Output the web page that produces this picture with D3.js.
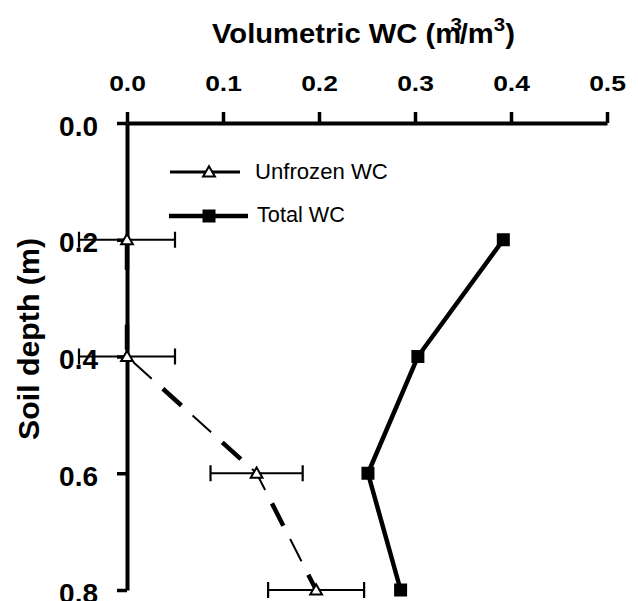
<!DOCTYPE html>
<html>
<head>
<meta charset="utf-8">
<script src="https://cdn.jsdelivr.net/npm/d3@7"></script>
<style>
  body { margin: 0; background: #fff; }
  svg { display: block; font-family: "Liberation Sans", Arial, sans-serif; }
</style>
</head>
<body>
<div id="chart"></div>
<script>
// data
var depths = [0.2, 0.4, 0.6, 0.8];
var unfrozenWC = [0.0, 0.0, 0.135, 0.197];
var unfrozenErr = [0.05, 0.05, 0.048, 0.05];
var totalWC = [0.392, 0.303, 0.251, 0.285];
var xTicks = [0, 0.1, 0.2, 0.3, 0.4, 0.5];
var yTicks = [0, 0.2, 0.4, 0.6, 0.8];

var w = 638, h = 601;

var svg = d3.select("#chart").append("svg")
  .attr("width", w)
  .attr("height", h);

var x = d3.scaleLinear().domain([0, 0.5]).range([127, 607]);
var y = d3.scaleLinear().domain([0, 0.8]).range([123, 590]);

// stretch factor so a text spans a given width
function fitWidth(sel, target) {
  var bw = sel.node().getBBox().width;
  return target / bw;
}

// top x axis
var xAxis = d3.axisTop(x)
  .tickValues(xTicks)
  .tickFormat(d3.format(".1f"))
  .tickSize(11)
  .tickSizeOuter(0)
  .tickPadding(21);

var gx = svg.append("g")
  .attr("transform", "translate(0," + y(0) + ")")
  .call(xAxis);
gx.select(".domain").attr("stroke", "#000").attr("stroke-width", 4);
gx.selectAll(".tick line").attr("stroke", "#000").attr("stroke-width", 3.5);
gx.selectAll(".tick text")
  .attr("fill", "#000")
  .attr("font-size", 22)
  .attr("font-weight", "bold")
  .attr("font-family", "Liberation Sans, Arial, sans-serif")
  .attr("transform", "scale(1.2,1)");

// left y axis
var yAxis = d3.axisLeft(y)
  .tickValues(yTicks)
  .tickFormat(d3.format(".1f"))
  .tickSize(10)
  .tickSizeOuter(0)
  .tickPadding(19);

var gy = svg.append("g")
  .attr("transform", "translate(" + x(0) + ",0)")
  .call(yAxis);
gy.select(".domain").attr("stroke", "#000").attr("stroke-width", 4);
gy.selectAll(".tick line").attr("stroke", "#000").attr("stroke-width", 3.5);
gy.selectAll(".tick text")
  .attr("fill", "#000")
  .attr("font-size", 28)
  .attr("font-weight", "bold")
  .attr("font-family", "Liberation Sans, Arial, sans-serif")
  .attr("dy", "0.43em");

// x axis title with superscripts
var tg = svg.append("g");
var title = tg.append("text")
  .attr("font-size", 27)
  .attr("font-weight", "bold")
  .attr("fill", "#000");
title.append("tspan").text("Volumetric WC (m");
title.append("tspan").text("3").attr("font-size", 19).attr("dx", -10).attr("dy", -12);
title.append("tspan").text("/m").attr("dx", -2).attr("dy", 12);
title.append("tspan").text("3").attr("font-size", 19).attr("dy", -12);
title.append("tspan").text(")").attr("dy", 12);
var ts = fitWidth(title, 303);
tg.attr("transform", "translate(212,43) scale(" + ts + ",1)");

// y axis title
var yt = svg.append("g");
var ytext = yt.append("text")
  .attr("font-size", 30)
  .attr("font-weight", "bold")
  .attr("fill", "#000")
  .attr("text-anchor", "middle")
  .text("Soil depth (m)");
var ys = fitWidth(ytext, 202);
yt.attr("transform", "translate(39,339) rotate(-90) scale(" + ys + ",1)");

// error bars for unfrozen WC
var eb = svg.append("g").attr("stroke", "#000").attr("stroke-width", 2.2);
depths.forEach(function(d, i) {
  var lo = unfrozenWC[i] - unfrozenErr[i], hi = unfrozenWC[i] + unfrozenErr[i];
  eb.append("line").attr("x1", x(lo)).attr("x2", x(hi)).attr("y1", y(d)).attr("y2", y(d));
  eb.append("line").attr("x1", x(lo)).attr("x2", x(lo)).attr("y1", y(d) - 8).attr("y2", y(d) + 8);
  eb.append("line").attr("x1", x(hi)).attr("x2", x(hi)).attr("y1", y(d) - 8).attr("y2", y(d) + 8);
});

var unfrozenPts = depths.map(function(d, i) { return [unfrozenWC[i], d]; });
var totalPts = depths.map(function(d, i) { return [totalWC[i], d]; });

var line = d3.line()
  .x(function(d) { return x(d[0]); })
  .y(function(d) { return y(d[1]); });

// dashed unfrozen line, alternating heavy and light dashes
svg.append("path")
  .attr("d", line(unfrozenPts))
  .attr("fill", "none")
  .attr("stroke", "#000")
  .attr("stroke-width", 2)
  .attr("stroke-dasharray", "25,55")
  .attr("stroke-dashoffset", -45);
svg.append("path")
  .attr("d", line(unfrozenPts))
  .attr("fill", "none")
  .attr("stroke", "#000")
  .attr("stroke-width", 4.5)
  .attr("stroke-dasharray", "25,55")
  .attr("stroke-dashoffset", -5);

// total WC line
svg.append("path")
  .attr("d", line(totalPts))
  .attr("fill", "none")
  .attr("stroke", "#000")
  .attr("stroke-width", 4.5);

var tri = d3.symbol().type(d3.symbolTriangle).size(60);

svg.selectAll(".tri")
  .data(unfrozenPts)
  .enter()
  .append("path")
  .attr("class", "tri")
  .attr("d", tri)
  .attr("transform", function(d) { return "translate(" + x(d[0]) + "," + (y(d[1]) + 1) + ")"; })
  .attr("fill", "#fff")
  .attr("stroke", "#000")
  .attr("stroke-width", 2);

svg.selectAll(".sq")
  .data(totalPts)
  .enter()
  .append("rect")
  .attr("class", "sq")
  .attr("x", function(d) { return x(d[0]) - 6.5; })
  .attr("y", function(d) { return y(d[1]) - 6.5; })
  .attr("width", 13)
  .attr("height", 13)
  .attr("fill", "#000");

// legend
var lg = svg.append("g");
lg.append("line").attr("x1", 170).attr("x2", 240).attr("y1", 172).attr("y2", 172)
  .attr("stroke", "#000").attr("stroke-width", 3);
lg.append("path").attr("d", tri).attr("transform", "translate(209,173)")
  .attr("fill", "#fff").attr("stroke", "#000").attr("stroke-width", 2);
var l1 = lg.append("g");
var l1t = l1.append("text").attr("font-size", 22).text("Unfrozen WC");
l1.attr("transform", "translate(255,179) scale(" + fitWidth(l1t, 133) + ",1)");

lg.append("line").attr("x1", 169).attr("x2", 248).attr("y1", 216).attr("y2", 216)
  .attr("stroke", "#000").attr("stroke-width", 4.5);
lg.append("rect").attr("x", 202.5).attr("y", 209.5).attr("width", 13).attr("height", 13).attr("fill", "#000");
var l2 = lg.append("g");
var l2t = l2.append("text").attr("font-size", 22).text("Total WC");
l2.attr("transform", "translate(257,222) scale(" + fitWidth(l2t, 88) + ",1)");
</script>
</body>
</html>
